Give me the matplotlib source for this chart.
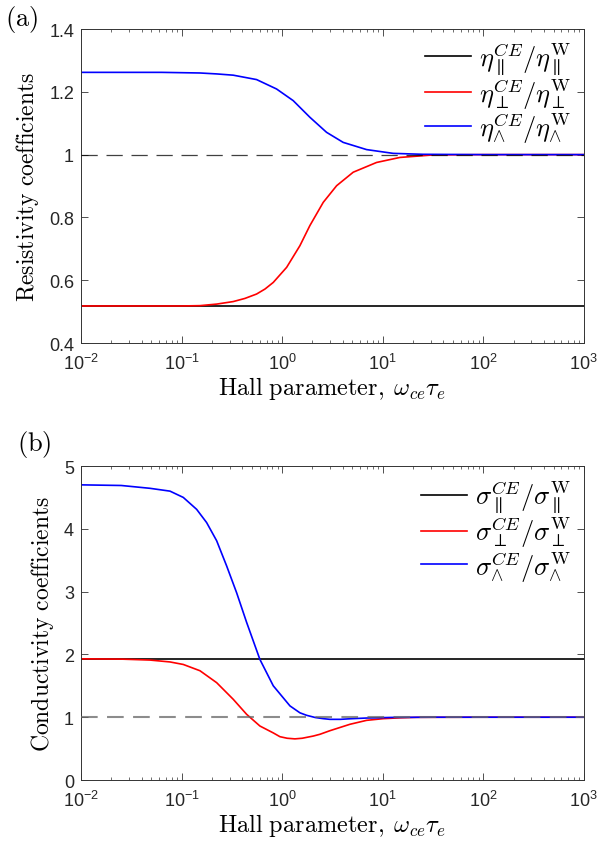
import numpy as np
import matplotlib
matplotlib.use("Agg")
import matplotlib.pyplot as plt

plt.rcParams['font.family'] = ['Liberation Sans', 'DejaVu Sans']
plt.rcParams['mathtext.fontset'] = 'cm'

# ---- data (x as log10 of Hall parameter) ----
# (a) resistivity
eta_par_logx = [-2, 3]
eta_par = [0.518, 0.518]
eta_perp_logx = [-2, -1.0, -0.817, -0.65, -0.486, -0.37, -0.254, -0.17, -0.088, 0.045,
                 0.177, 0.276, 0.409, 0.542, 0.707, 0.939, 1.171, 1.502, 2, 3]
eta_perp = [0.518, 0.518, 0.519, 0.524, 0.532, 0.542, 0.556, 0.572, 0.593, 0.641,
            0.710, 0.774, 0.848, 0.901, 0.944, 0.975, 0.991, 0.999, 1.0, 1.0]
eta_wedge_logx = [-2, -1.2, -0.817, -0.65, -0.486, -0.254, -0.055, 0.110, 0.276, 0.442,
                  0.607, 0.840, 1.104, 1.4, 2, 3]
eta_wedge = [1.262, 1.262, 1.260, 1.257, 1.253, 1.239, 1.209, 1.172, 1.119, 1.071,
             1.039, 1.016, 1.004, 1.001, 1.0, 1.0]

# (b) conductivity
sig_par_logx = [-2, 3]
sig_par = [1.933, 1.933]
sig_perp_logx = [-2, -1.6, -1.314, -1.115, -0.983, -0.817, -0.651, -0.486, -0.353,
                 -0.221, -0.088, -0.022, 0.05, 0.127, 0.2, 0.31, 0.376, 0.475,
                 0.674, 0.840, 1.006, 1.171, 1.34, 2, 3]
sig_perp = [1.93, 1.925, 1.91, 1.88, 1.84, 1.74, 1.55, 1.285, 1.046,
            0.86, 0.75, 0.69, 0.665, 0.655, 0.665, 0.70, 0.728, 0.785,
            0.887, 0.95, 0.977, 0.99, 0.998, 1.0, 1.0]
sig_wedge_logx = [-2, -1.6, -1.314, -1.115, -0.983, -0.850, -0.751, -0.651, -0.552,
                  -0.452, -0.353, -0.221, -0.088, 0.078, 0.177, 0.244, 0.330, 0.409,
                  0.475, 0.58, 0.674, 0.840, 1.1, 1.5, 2, 3]
sig_wedge = [4.70, 4.69, 4.645, 4.60, 4.50, 4.31, 4.10, 3.81, 3.41,
             2.98, 2.51, 1.92, 1.50, 1.18, 1.07, 1.03, 0.995, 0.977,
             0.966, 0.966, 0.975, 0.987, 0.997, 1.0, 1.0, 1.0]

ytick_a = [0.4, 0.6, 0.8, 1.0, 1.2, 1.4]
ytick_a_labels = ['0.4', '0.6', '0.8', '1', '1.2', '1.4']
ytick_b = [0, 1, 2, 3, 4, 5]
ytick_b_labels = ['0', '1', '2', '3', '4', '5']

labels_a = [r'$\eta^{CE}_{\parallel}/\eta^{\mathrm{W}}_{\parallel}$',
            r'$\eta^{CE}_{\perp}/\eta^{\mathrm{W}}_{\perp}$',
            r'$\eta^{CE}_{\wedge}/\eta^{\mathrm{W}}_{\wedge}$']
labels_b = [r'$\sigma^{CE}_{\parallel}/\sigma^{\mathrm{W}}_{\parallel}$',
            r'$\sigma^{CE}_{\perp}/\sigma^{\mathrm{W}}_{\perp}$',
            r'$\sigma^{CE}_{\wedge}/\sigma^{\mathrm{W}}_{\wedge}$']

xlab = r'$\mathrm{Hall\ parameter,}\;\omega_{ce}\tau_e$'

def hall(logx):
    return np.power(10.0, np.asarray(logx, dtype=float))

fig = plt.figure(figsize=(6, 8.53), dpi=100)
ax_a = fig.add_axes([0.135, 0.5967, 0.838, 0.3681])
ax_b = fig.add_axes([0.135, 0.0844, 0.838, 0.3681])

def style(ax, yt, ytl, ylim, ylab):
    ax.set_xscale('log')
    ax.set_xlim(1e-2, 1e3)
    ax.set_ylim(*ylim)
    ax.set_yticks(yt)
    ax.set_yticklabels(ytl)
    ax.tick_params(which='both', direction='in', top=True, right=True,
                   color='0.2', labelcolor='0.15', labelsize=13)
    ax.tick_params(which='major', length=5, width=0.6)
    ax.tick_params(which='minor', length=2.5, width=0.5)
    ax.tick_params(axis='x', pad=7)
    ax.tick_params(axis='y', pad=5)
    for s in ax.spines.values():
        s.set_color('0.2')
        s.set_linewidth(0.7)
    ax.set_xlabel(xlab, fontsize=17.5, labelpad=1)
    ax.set_ylabel(ylab, fontsize=17, labelpad=6)

leg_kw = dict(loc='upper right', frameon=False, fontsize=19, handlelength=1.75,
              handletextpad=0.3, labelspacing=-0.05, borderaxespad=0.0)

lw = 1.2
ax_a.plot(hall(eta_par_logx), eta_par, color='k', lw=lw, label=labels_a[0])
ax_a.plot(hall(eta_perp_logx), eta_perp, color='r', lw=lw, label=labels_a[1])
ax_a.plot(hall(eta_wedge_logx), eta_wedge, color='b', lw=lw, label=labels_a[2])
ax_a.axhline(1.0, color='k', lw=0.9, ls=(0, (13, 7)), alpha=0.75, zorder=5)
style(ax_a, ytick_a, ytick_a_labels, (0.4, 1.4), r'$\mathrm{Resistivity\ coefficients}$')
ax_a.legend(bbox_to_anchor=(0.995, 1.0), **leg_kw)

ax_b.plot(hall(sig_par_logx), sig_par, color='k', lw=lw, label=labels_b[0])
ax_b.plot(hall(sig_perp_logx), sig_perp, color='r', lw=lw, label=labels_b[1])
ax_b.plot(hall(sig_wedge_logx), sig_wedge, color='b', lw=lw, label=labels_b[2])
ax_b.axhline(1.0, color='0.4', lw=1.5, ls=(0, (8, 4.5)), alpha=0.75, zorder=5)
style(ax_b, ytick_b, ytick_b_labels, (0, 5), r'$\mathrm{Conductivity\ coefficients}$')
ax_b.legend(bbox_to_anchor=(0.995, 0.995), **leg_kw)

fig.text(0.008, 0.995, r'$\mathrm{(a)}$', fontsize=19, va='top', ha='left')
fig.text(0.028, 0.497, r'$\mathrm{(b)}$', fontsize=19, va='top', ha='left')

fig.savefig('out.png', dpi=100)
